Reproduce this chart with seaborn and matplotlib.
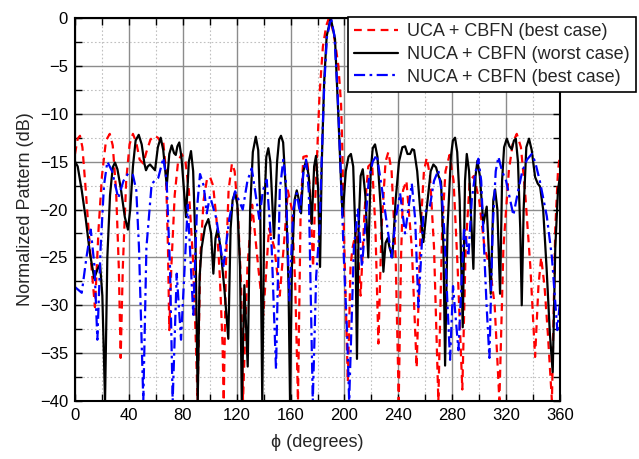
import numpy as np
import pandas as pd
import seaborn as sns
import matplotlib
matplotlib.use("Agg")
import matplotlib.pyplot as plt
from matplotlib.ticker import MultipleLocator

sns.set_theme(style="ticks")
plt.rcParams['font.family'] = ['Liberation Sans', 'DejaVu Sans']

# UCA + CBFN (best case)
uca_phi = [0, 2, 3.7, 5.5, 8, 11, 14.8, 17.5, 20, 23, 25.8, 28, 30.5, 32.5, 33.9, 35.5, 38,
           40.5, 43, 45.5, 48, 50.7, 53, 56, 59, 61.5, 63, 65.3, 67.5, 69, 70, 71.5, 74, 76.5,
           79.2, 82, 84.5, 87.5, 89.5, 91, 93, 95.5, 98, 100.2, 102.5, 105, 107.5, 109.5,
           110.4, 112, 114, 116.5, 118.5, 121, 123.3, 124.7, 128, 131.5, 136, 139.8, 144,
           148, 152, 156, 158, 161, 163.5, 165.5, 167.5, 169.5, 172, 174.5, 176.7, 178,
           179.5, 181.5, 184, 186.5, 188.5, 191, 193, 195.5, 197.5, 198.5, 199.2, 201,
           202.5, 204.5, 206, 209, 212, 215, 217.7, 220.5, 223, 225.2, 227.5, 230.5, 232.6,
           235, 238, 240.3, 242, 243.5, 246, 250, 253.6, 256.5, 259, 261.1, 263.5, 266.5,
           269.7, 272.5, 275, 278, 281, 284, 287.5, 290, 293, 296, 300, 304, 308, 311.5,
           315, 318, 322, 325, 327.9, 331, 334, 338, 341.5, 344, 346, 348.5, 351, 354,
           356.5, 358.5, 360]
uca_db = [-14.2, -12.6, -12.3, -13.5, -18, -24, -30.2, -22, -16.5, -12.8, -12.1, -13.3, -18,
          -26, -35.5, -26, -17, -13.2, -12.1, -13, -14.8, -15.2, -14, -12.7, -12.3, -12.5,
          -12.8, -12.6, -16, -24, -32.6, -26, -18.5, -15, -14.2, -15, -18, -25, -33, -40,
          -25, -19, -16.8, -16.6, -17.5, -21, -27, -34, -40, -26, -18, -15.2, -16, -20.5,
          -28, -40, -26, -19.5, -26, -31, -22, -24, -29, -22, -18, -20, -28, -40, -20,
          -14.5, -14.4, -18, -26, -20, -15, -8, -3, -0.8, 0, -1, -2.5, -5, -9, -14, -20,
          -30, -38, -26, -24, -22, -29, -20, -15.5, -15.1, -22, -34, -22, -15, -14, -16,
          -25, -40, -25, -18, -17, -24, -36.5, -22, -16, -14.6, -16.5, -24, -40, -22, -16,
          -14.3, -17, -26, -38.8, -24, -17, -16.5, -19, -24, -26, -30, -40, -24, -16, -13,
          -12.1, -13.5, -18, -26, -35.4, -28, -25, -28, -33, -40, -22, -16, -14.2]

# NUCA + CBFN (worst case)
worst_phi = [0, 2, 5, 8, 11, 14.3, 16.5, 18.6, 20.3, 22.3, 24, 26, 28, 29.7, 31.5, 34, 37,
             39.3, 41, 43, 45, 47.3, 49.5, 51.5, 52.7, 54, 55.7, 57.5, 59.4, 61.5, 63.6,
             65.5, 68.1, 70, 71.8, 73.5, 74.8, 76, 77.4, 79, 82.4, 84.5, 86.1, 87.7, 89.5,
             91.1, 92.5, 94, 96.5, 99, 101, 102.7, 104.3, 105.9, 108, 111, 113.8, 115.5, 117,
             118.8, 120.5, 122.5, 123.8, 125.7, 128.2, 130, 132, 134.2, 136, 137.5, 139,
             140.5, 142, 143.5, 145, 147.7, 150, 151.5, 152.9, 154.5, 156.5, 158.5, 159.6,
             161, 163, 164.6, 166.5, 167.8, 169.5, 171.5, 173.5, 175.7, 177.5, 178.9, 180.5,
             181.9, 183.1, 184.9, 186.8, 189.8, 193, 195.5, 198, 198.7, 201, 203, 204.8,
             206.5, 208, 209.3, 210.5, 212, 213.6, 215.5, 217.7, 219.5, 221, 222.7, 224.5,
             227, 228.9, 230.5, 232.1, 233.5, 235.6, 238, 240.5, 243, 245, 246.8, 248.7,
             250.3, 251.7, 254, 256.5, 258.6, 261, 264, 266, 268, 269.8, 271.7, 273.5, 274.7,
             276.5, 279, 280.5, 282.1, 283.7, 285.5, 287.8, 289.5, 290.8, 292.5, 295.7,
             297.3, 298.7, 300.5, 303.1, 305.6, 308.6, 310.5, 311.8, 313.5, 315.5, 317,
             318.5, 320.5, 322.5, 324.2, 325.8, 327.2, 328.8, 330.5, 331.6, 333, 335, 337,
             339, 341.5, 343.5, 345.2, 347.5, 350, 352.5, 354.6, 356.5, 358.5, 360]
worst_db = [-15, -15.5, -18, -21, -24.5, -27.2, -26.3, -25.7, -29, -40, -25, -18.5, -15.6,
            -15.1, -15.8, -17.8, -20.8, -22.1, -20, -15.5, -12.8, -12.2, -13.2, -15.2, -15.9,
            -15.5, -15.3, -15.6, -15.9, -13.5, -12.5, -13.8, -17.5, -14.2, -13.3, -14.1,
            -14.3, -13.4, -13.0, -14.5, -20.8, -15, -13.9, -16, -24, -40, -27, -24, -21.8,
            -21, -22.5, -26.7, -23, -22, -24, -28.5, -33.5, -22, -19, -18.2, -19.5, -26,
            -40, -27.9, -36.4, -20, -14, -12.4, -13.8, -20, -40, -20, -14.5, -13.6, -15, -23,
            -15, -12.7, -12.3, -13, -18, -28, -40, -26, -19, -18, -19.2, -20.4, -16, -14.9,
            -16.5, -21.5, -15.5, -14.4, -18, -26, -15.5, -6.8, -1.9, 0, -2.2, -10.3, -19,
            -20.6, -16, -14.5, -14.2, -15.5, -22, -35.6, -22, -16.5, -15.8, -18.5, -25, -16,
            -13.6, -13.2, -14.5, -20, -26.5, -23.5, -23, -24, -25, -19, -15, -13.5, -13.4,
            -14.2, -14.2, -13.7, -13.8, -16, -20.5, -23.4, -20, -16, -15.3, -15.6, -16.5,
            -17.1, -24, -36.3, -22, -14.5, -12.8, -12.5, -14, -19, -32.3, -17, -14.2, -16,
            -26.2, -16.5, -14.9, -16.5, -21.5, -19.7, -28.8, -19, -17.9, -20, -28.8, -17,
            -13.5, -12.6, -13.4, -13.7, -12.8, -12.6, -15, -22, -30, -20, -13.5, -12.6,
            -13.8, -16.6, -17.3, -17.6, -20, -26, -33, -37, -24, -18, -16.5]

# NUCA + CBFN (best case)
best_phi = [0, 5, 8.5, 11.7, 14.5, 16.6, 19, 21.5, 24, 27.5, 32.1, 36, 39.6, 43, 45.5, 47.5,
            50.7, 53, 56.9, 61.8, 65.6, 68, 70.5, 72.5, 75.5, 78.7, 83.7, 87.8, 90.5, 92.8,
            95.5, 97.8, 100.2, 105, 110.1, 114.5, 118.8, 124.5, 128, 131.2, 136.8, 139.5,
            142.3, 146, 149.2, 152, 154.6, 156.5, 159.1, 162, 164.6, 167, 169.5, 171.5,
            173.5, 176.5, 179, 181.5, 183.3, 185, 187, 190, 192.5, 195, 197.5, 199.7, 202,
            203.5, 207, 210, 213, 218, 221, 224, 228, 232, 235, 238, 241.3, 245, 250, 252.5,
            254.9, 258.6, 263.5, 266.5, 269.7, 272, 274, 276.5, 278.4, 280.6, 284.6, 288.8,
            292, 294.5, 297, 299.4, 301.5, 303, 305.5, 307.6, 310, 312.3, 314.3, 317, 320,
            325.4, 329, 332, 335.5, 339, 341.5, 345, 350.2, 354, 358, 360]
best_db = [-28.1, -28.7, -25, -22.1, -26, -33.6, -24, -17.5, -15, -16, -18.8, -17, -16.2,
           -16.4, -18, -24, -40, -24, -17.3, -16.7, -14.6, -17, -26, -40, -26.7, -33.6,
           -19.5, -31, -20, -16.3, -17.5, -20.4, -18.6, -21, -26, -21, -18.1, -20, -17,
           -15.7, -21, -18, -16.9, -24, -36.7, -18, -14.8, -17, -29.5, -20, -18.3, -20.4,
           -16, -14.8, -18, -40, -27, -22, -14, -7, -2, 0, -1.8, -8, -17, -25.6, -33, -40,
           -24, -20, -26, -17, -15, -14.3, -18, -22, -25, -21, -18.3, -22.5, -17.3, -21,
           -30.2, -20.5, -19.6, -17, -15.9, -18, -22, -30, -35.7, -28, -34.7, -21.8, -24.9,
           -19, -16.3, -14.7, -17, -22, -30, -35.5, -22, -16, -14.5, -16, -17, -20.6, -18,
           -16, -14.8, -14.2, -15, -17, -20.7, -25, -32.6, -29.6]

series = [
    ("UCA + CBFN (best case)", uca_phi, uca_db, "#ff0000", (0, (3.5, 2.5))),
    ("NUCA + CBFN (worst case)", worst_phi, worst_db, "#000000", "-"),
    ("NUCA + CBFN (best case)", best_phi, best_db, "#0000ff", (0, (5, 2, 1.2, 2))),
]

fig = plt.figure(figsize=(6.39, 4.59), dpi=100)
ax = fig.add_axes([75 / 639, 1 - 401 / 459, 485 / 639, 383 / 459])

for name, phi, db, color, ls in series:
    df = pd.DataFrame({"phi": phi, "db": db})
    sns.lineplot(data=df, x="phi", y="db", ax=ax, color=color, linestyle=ls,
                 linewidth=1.6, label=name, sort=False)

ax.set_xlim(0, 360)
ax.set_ylim(-40, 0)
ax.xaxis.set_major_locator(MultipleLocator(40))
ax.xaxis.set_minor_locator(MultipleLocator(20))
ax.yaxis.set_major_locator(MultipleLocator(5))
ax.yaxis.set_minor_locator(MultipleLocator(2.5))
ax.grid(which="major", color="#8c8c8c", linewidth=1.0, linestyle="-")
ax.grid(which="minor", color="#c0c0c0", linewidth=0.8, linestyle=(0, (1.5, 2)))
ax.set_axisbelow(True)
ax.tick_params(which="both", direction="in", top=True, right=True, length=5,
               width=1.0, labelsize=12, pad=5, colors="black")
for sp in ax.spines.values():
    sp.set_linewidth(1.5)
    sp.set_color("black")

ax.set_xlabel("ϕ (degrees)", fontsize=13, labelpad=8)
ax.set_ylabel("Normalized Pattern (dB)", fontsize=13, labelpad=4)

leg = ax.legend(loc="upper left", bbox_to_anchor=(0.563, 1.003), fontsize=13,
                frameon=True, fancybox=False, edgecolor="black", framealpha=1,
                borderpad=0.35, labelspacing=0.32, handlelength=2.4, handletextpad=0.5,
                borderaxespad=0)
leg.get_frame().set_linewidth(1.2)

fig.savefig("out.png", dpi=100)
